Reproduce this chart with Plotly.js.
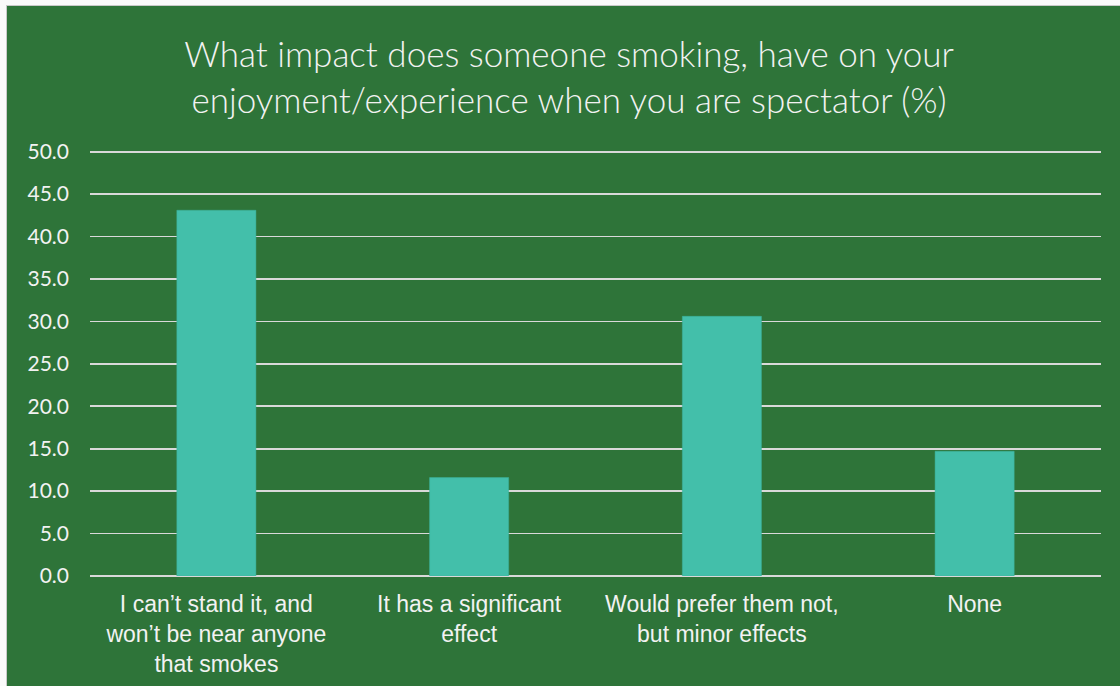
<!DOCTYPE html>
<html>
<head>
<meta charset="utf-8">
<script src="https://cdn.plot.ly/plotly-3.0.1.min.js"></script>
<style>
  html, body { margin: 0; padding: 0; background: #FAFAFA; width: 1120px; height: 686px; overflow: hidden; }
  #frame { position: absolute; left: 6px; top: 5px; width: 1114px; height: 681px; background: #C9C9C9; }
  #chart { position: absolute; left: 7px; top: 6px; width: 1113px; height: 680px; }
</style>
</head>
<body>
<div id="frame"></div>
<div id="chart"></div>
<script>
const titleText = "What impact does someone smoking, have on your<br>enjoyment/experience when you are spectator (%)";
const categories = [
  "I can’t stand it, and<br>won’t be near anyone<br>that smokes",
  "It has a significant<br>effect",
  "Would prefer them not,<br>but minor effects",
  "None"
];
const percentages = [43.1, 11.6, 30.6, 14.7];
const yTicks = [0, 5, 10, 15, 20, 25, 30, 35, 40, 45, 50];

const green = "#2E7439";
const teal = "#43BFAA";
const grid = "#D9D9D9";
const textColor = "#F2F2F2";

const trace = {
  type: "bar",
  x: categories,
  y: percentages,
  marker: { color: teal, line: { color: "#3DB09B", width: 0.5 } },
  hoverinfo: "x+y"
};

const layout = {
  width: 1113,
  height: 680,
  paper_bgcolor: green,
  plot_bgcolor: green,
  margin: { l: 83, r: 19, t: 144, b: 110 },
  bargap: 0.687,
  showlegend: false,
  title: {
    text: titleText,
    font: { family: "Lato, 'Open Sans', sans-serif", size: 35, color: textColor, weight: 300 },
    x: 0.505,
    xanchor: "center",
    xref: "container",
    y: 0.91,
    yanchor: "top",
    yref: "container"
  },
  xaxis: {
    type: "category",
    showgrid: false,
    showline: false,
    zeroline: false,
    ticks: "",
    tickfont: { family: "'Liberation Sans', Arial, sans-serif", size: 23, color: textColor },
    ticklabelstandoff: 12
  },
  yaxis: {
    range: [0, 50.2],
    tickvals: yTicks,
    ticktext: yTicks.map(v => v.toFixed(1)),
    showgrid: true,
    gridcolor: grid,
    gridwidth: 1.6,
    zeroline: true,
    zerolinecolor: grid,
    zerolinewidth: 1.6,
    showline: false,
    ticks: "",
    tickfont: { family: "Lato, 'Open Sans', sans-serif", size: 21, color: textColor },
    ticklabelstandoff: 20
  }
};

Plotly.newPlot("chart", [trace], layout, { displayModeBar: false, staticPlot: true });
</script>
</body>
</html>
